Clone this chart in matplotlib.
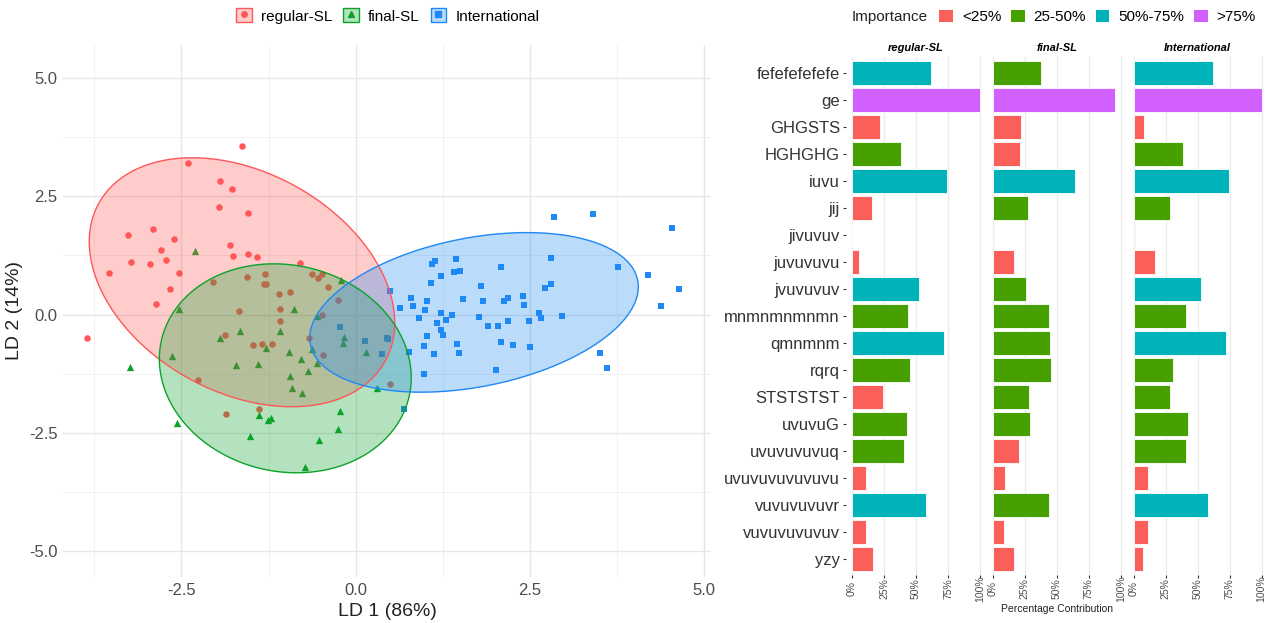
import matplotlib
matplotlib.use("Agg")
import matplotlib.pyplot as plt
import numpy as np
from matplotlib.patches import Patch, Polygon
from matplotlib.lines import Line2D
from matplotlib.legend_handler import HandlerTuple

plt.rcParams['font.family'] = ['Liberation Sans', 'DejaVu Sans']
plt.rcParams['axes.unicode_minus'] = False

# LDA scores
reg_x = [-1.63, -2.41, -1.95, -1.78, -1.96, -1.55, -2.91, -3.26, -2.60, -2.80, -1.81, -1.76, -1.55,
         -1.42, -3.22, -2.95, -2.72, -3.54, -2.53, -0.80, -2.66, -2.87, -2.05, -1.56, -1.30, -1.32,
         -1.28, -0.62, -0.54, -0.48, -0.40, -1.10, -0.94, -1.67, -1.09, -1.09, -0.25, -0.49, -3.85,
         -1.87, -1.48, -1.34, -1.20, -0.67, -0.47, -2.26, 0.50, -1.38, -1.86]
reg_y = [3.56, 3.21, 2.82, 2.65, 2.28, 2.15, 1.81, 1.68, 1.60, 1.36, 1.47, 1.24, 1.29,
         1.21, 1.12, 1.06, 1.16, 0.87, 0.87, 1.10, 0.55, 0.23, 0.69, 0.79, 0.85, 0.65,
         0.65, 0.85, 0.78, 0.85, 0.59, 0.44, 0.48, 0.07, 0.11, -0.13, 0.30, 0.00, -0.49,
         -0.44, -0.64, -0.63, -0.63, -0.49, -0.85, -1.38, -1.47, -1.99, -2.10]
fin_x = [-2.30, -0.21, -2.53, -0.88, -0.56, -3.24, -2.64, -1.94, -1.66, -1.08, -1.29, -1.71,
         -1.40, -0.95, -0.79, -0.62, -0.56, -0.69, -0.94, -0.91, -0.77, -0.16, -0.18, 0.15,
         0.31, -2.57, -1.38, -1.26, -1.21, -1.52, -0.53, -0.26, -0.22, -0.73]
fin_y = [1.34, 0.73, 0.12, 0.11, -0.04, -1.11, -0.88, -0.49, -0.35, -0.34, -0.71, -1.06,
         -1.05, -0.79, -0.94, -0.73, -1.02, -1.19, -1.31, -1.55, -1.65, -0.47, -0.61, -0.80,
         -1.56, -2.29, -2.13, -2.22, -2.19, -2.56, -2.66, -2.41, -2.03, -3.23]
int_x = [2.85, 3.40, 4.54, 3.76, 4.20, 4.64, 4.38, 3.50, 3.61, 2.81, 2.81, 2.72, 2.09, 1.80,
         1.44, 1.14, 1.09, 1.41, 1.50, 1.23, 1.08, 0.50, 0.79, 0.82, 0.64, 1.02, 1.00, 1.54,
         1.83, 2.13, 2.19, 2.40, 2.41, 2.63, 2.66, 2.96, 2.49, 2.19, 2.05, 1.90, 1.77, 1.39,
         1.23, 1.30, 1.17, 1.23, 1.26, 0.91, 1.02, 0.98, 1.13, 1.46, 1.49, 2.08, 2.26, 2.50,
         2.02, 0.98, 0.76, 0.45, 0.46, 0.38, 0.14, -0.23, 0.70]
int_y = [2.06, 2.13, 1.84, 1.00, 0.83, 0.54, 0.18, -0.81, -1.12, 1.19, 0.64, 0.56, 1.00, 0.61,
         1.17, 1.14, 1.07, 0.90, 0.92, 0.81, 0.67, 0.50, 0.36, 0.18, 0.14, 0.29, 0.10, 0.32,
         0.29, 0.28, 0.35, 0.40, 0.20, 0.03, -0.08, -0.03, -0.14, -0.14, -0.24, -0.24, -0.06, -0.01,
         0.04, -0.11, -0.18, -0.32, -0.43, -0.08, -0.45, -0.66, -0.83, -0.63, -0.82, -0.59, -0.64, -0.69,
         -1.17, -1.26, -0.79, -0.49, -0.51, -0.83, -0.56, -0.26, -2.00]

# variable contributions
features = ["fefefefefefe", "ge", "GHGSTS", "HGHGHG", "iuvu", "jij", "jivuvuv", "juvuvuvu",
            "jvuvuvuv", "mnmnmnmnmn", "qmnmnm", "rqrq", "STSTSTST", "uvuvuG", "uvuvuvuvuq",
            "uvuvuvuvuvuvu", "vuvuvuvuvr", "vuvuvuvuvuv", "yzy"]
reg_pct = [62, 100, 22, 38.5, 74.5, 16, 0, 5.5, 52, 44, 72, 45.5, 24.5, 42.7, 40.4, 10.7, 57.6, 11.2, 16.4]
fin_pct = [37.7, 95.3, 22, 21.1, 64.5, 27.8, 1, 16.4, 25.8, 44.2, 44.9, 45.5, 28.4, 29.4, 20.8, 9.9, 44.2, 8.8, 16.4]
int_pct = [62.3, 100, 8.1, 38.6, 74.8, 28.1, 1.3, 16.4, 52.3, 40.9, 71.9, 30.5, 28.4, 42.7, 40.6, 10.9, 57.8, 11.5, 7.3]
reg_imp = ["50%-75%", ">75%", "<25%", "25-50%", "50%-75%", "<25%", "<25%", "<25%", "50%-75%", "25-50%",
           "50%-75%", "25-50%", "<25%", "25-50%", "25-50%", "<25%", "50%-75%", "<25%", "<25%"]
fin_imp = ["25-50%", ">75%", "<25%", "<25%", "50%-75%", "25-50%", "<25%", "<25%", "25-50%", "25-50%",
           "25-50%", "25-50%", "25-50%", "25-50%", "<25%", "<25%", "25-50%", "<25%", "<25%"]
int_imp = ["50%-75%", ">75%", "<25%", "25-50%", "50%-75%", "25-50%", "<25%", "<25%", "50%-75%", "25-50%",
           "50%-75%", "25-50%", "25-50%", "25-50%", "25-50%", "<25%", "50%-75%", "<25%", "<25%"]

imp_levels = ["<25%", "25-50%", "50%-75%", ">75%"]
imp_colors = {"<25%": "#FA5F5A", "25-50%": "#45A000", "50%-75%": "#00B3B8", ">75%": "#D160FF"}

W, H = 1275, 623
fig = plt.figure(figsize=(W / 100, H / 100), dpi=100)


def rect(l, t, r, b):
    return [l / W, 1 - b / H, (r - l) / W, (b - t) / H]


# robust t covariance (like MASS::cov.trob used by stat_ellipse)
def cov_trob(X, nu=5, iters=100):
    n, p = X.shape
    loc = X.mean(0)
    cov = np.cov(X.T)
    for _ in range(iters):
        d = X - loc
        md = np.einsum('ij,jk,ik->i', d, np.linalg.inv(cov), d)
        w = (nu + p) / (nu + md)
        loc = (w[:, None] * X).sum(0) / w.sum()
        d = X - loc
        cov = (w[:, None] * d).T @ d / n
    return loc, cov


def ellipse_pts(x, y, radius=2.55, seg=120):
    X = np.column_stack([x, y])
    loc, cov = cov_trob(X)
    t = np.linspace(0, 2 * np.pi, seg)
    circ = np.column_stack([np.cos(t), np.sin(t)])
    ch = np.linalg.cholesky(cov)
    return loc + radius * circ @ ch.T


# scatter panel
ax = fig.add_axes(rect(63, 45, 711, 577))
groups = [("regular-SL", reg_x, reg_y, "#FF5757", "o", 22),
          ("final-SL", fin_x, fin_y, "#0BA22A", "^", 28),
          ("International", int_x, int_y, "#1E88F5", "s", 20)]
for name, gx, gy, col, mk, sz in groups:
    ax.scatter(gx, gy, s=sz, marker=mk, color=col, linewidths=0, zorder=3)
for name, gx, gy, col, mk, sz in groups:
    pts = ellipse_pts(np.array(gx), np.array(gy))
    ax.add_patch(Polygon(pts, closed=True, facecolor=col, alpha=0.3, edgecolor='none', zorder=4))
    ax.add_patch(Polygon(pts, closed=True, facecolor='none', edgecolor=col, lw=1.0, zorder=5))

ax.set_xlim(-4.2, 5.1)
ax.set_ylim(-5.55, 5.7)
ax.set_xticks([-2.5, 0, 2.5, 5.0])
ax.set_xticklabels(["-2.5", "0.0", "2.5", "5.0"])
ax.set_yticks([-5.0, -2.5, 0, 2.5, 5.0])
ax.set_yticklabels(["-5.0", "-2.5", "0.0", "2.5", "5.0"])
ax.set_xticks([-3.75, -1.25, 1.25, 3.75], minor=True)
ax.set_yticks([-3.75, -1.25, 1.25, 3.75], minor=True)
ax.grid(True, which='major', color='#E6E6E6', lw=1.0, zorder=0)
ax.grid(True, which='minor', color='#EFEFEF', lw=0.6, zorder=0)
ax.set_axisbelow(True)
for s in ax.spines.values():
    s.set_visible(False)
ax.tick_params(which='both', length=0, labelsize=12, labelcolor='#4D4D4D', pad=4)
ax.set_xlabel("LD 1 (86%)", fontsize=14, color='#222222', labelpad=4)
ax.set_ylabel("LD 2 (14%)", fontsize=14, color='#222222', labelpad=4)

handles = [(Patch(facecolor=col, alpha=0.3, edgecolor='none'),
            Patch(facecolor='none', edgecolor=col, lw=1.0),
            Line2D([], [], marker=mk, color=col, linestyle='', markersize=4))
           for name, gx, gy, col, mk, sz in groups]
fig.legend(handles, [g[0] for g in groups], handler_map={tuple: HandlerTuple(ndivide=1)},
           loc='center left', bbox_to_anchor=(236 / W, 1 - 16 / H), ncol=3, frameon=False,
           borderpad=0, borderaxespad=0,
           fontsize=11, handlelength=1.03, handleheight=1.03, handletextpad=0.59, columnspacing=0.72)

# contribution panels
panels = [("regular-SL", reg_pct, reg_imp), ("final-SL", fin_pct, fin_imp),
          ("International", int_pct, int_imp)]
pos = np.arange(len(features))
pw = 140.8
for i, (title, vals, imp) in enumerate(panels):
    left = 845.6 + i * pw
    bx = fig.add_axes(rect(left, 56.7, left + pw, 575.2))
    bx.barh(pos, vals, height=0.9, color=[imp_colors[c] for c in imp], edgecolor='white', linewidth=0.6, zorder=2)
    bx.set_xlim(-5, 105)
    bx.set_ylim(len(features) - 0.4, -0.6)
    bx.set_xticks([0, 25, 50, 75, 100])
    bx.set_xticklabels(["0%", "25%", "50%", "75%", "100%"], rotation=90, va='center')
    bx.grid(True, axis='x', color='#EBEBEB', lw=1.0, zorder=0)
    bx.set_axisbelow(True)
    for s in bx.spines.values():
        s.set_visible(False)
    bx.tick_params(axis='x', length=2, width=0.8, color='#333333', labelsize=7.5, labelcolor='#4D4D4D', pad=7.5)
    bx.set_yticks(pos)
    if i == 0:
        bx.set_yticklabels(features)
        bx.tick_params(axis='y', length=2, width=0.8, color='#333333', labelsize=12, labelcolor='#333333', pad=2)
    else:
        bx.set_yticklabels([])
        bx.tick_params(axis='y', length=0)
    bx.set_title(title, fontsize=8, fontweight='bold', fontstyle='italic', pad=4)

fig.text(1057 / W, 1 - 609 / H, "Percentage Contribution", ha='center', va='center', fontsize=7.5, color='#222222')

fig.text(852 / W, 1 - 17 / H, "Importance", ha='left', va='center', fontsize=11, color='#222222')
imp_handles = [Patch(facecolor=imp_colors[c], edgecolor='none') for c in imp_levels]
fig.legend(imp_handles, imp_levels, loc='center left', bbox_to_anchor=(939 / W, 1 - 17 / H), ncol=4,
           frameon=False, borderpad=0, borderaxespad=0, fontsize=11, handlelength=0.9,
           handleheight=0.9, handletextpad=0.59, columnspacing=0.63)

fig.savefig("out.png", dpi=100)
